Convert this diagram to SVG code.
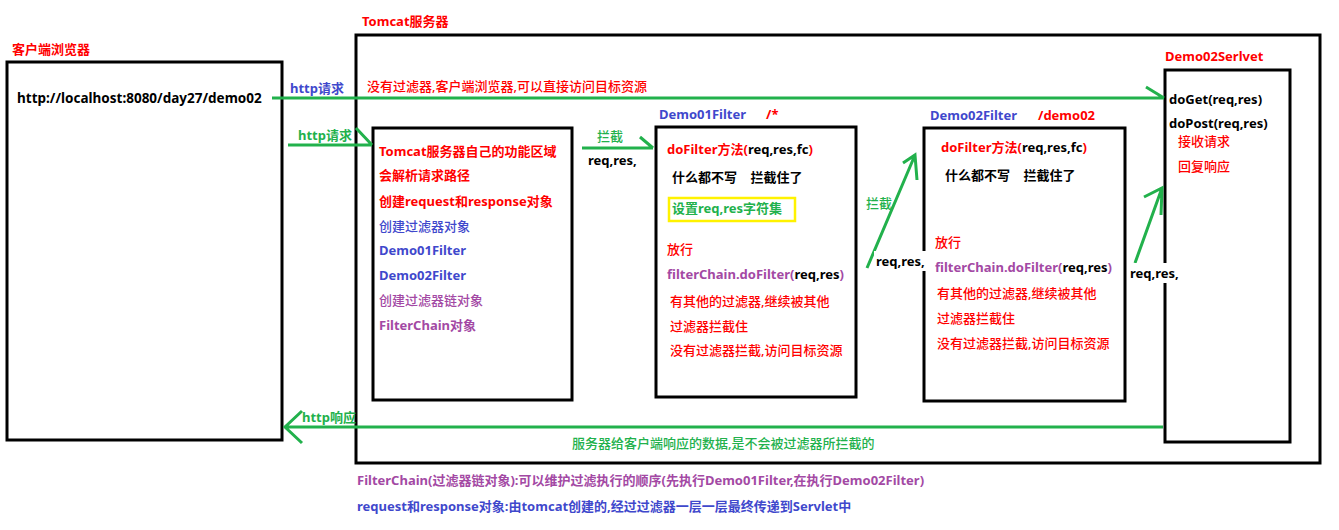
<svg xmlns="http://www.w3.org/2000/svg" width="1339" height="530" viewBox="0 0 1339 530">
<style>
text{font-family:"Noto Sans","Noto Sans CJK SC",sans-serif;font-size:13px;font-weight:500;}
.b{font-weight:bold;}
.r{fill:#ff0000;}
.bl{fill:#3f48cc;}
.p{fill:#a349a4;}
.g{fill:#22b14c;}
.k{fill:#000000;}
.box{fill:none;stroke:#000;stroke-width:3;}
.con{fill:none;stroke:#22b14c;stroke-width:3;}
</style>
<rect width="1339" height="530" fill="#fff"/>

<g id="client">
<text x="12" y="54" class="b r">客户端浏览器</text>
<rect x="7" y="62" width="275" height="378" class="box"/>
<text x="17" y="103" class="b k" style="font-size:13.5px">http://localhost:8080/day27/demo02</text>
</g>

<g id="tomcat">
<text x="362" y="26" class="b r">Tomcat服务器</text>
<rect x="356" y="35" width="964" height="428" class="box"/>
<text x="367" y="91" class="r">没有过滤器,客户端浏览器,可以直接访问目标资源</text>
</g>

<g id="tomcat-area">
<rect x="373" y="128" width="199" height="272" class="box"/>
<text x="379" y="156" class="b r">Tomcat服务器自己的功能区域</text>
<text x="379" y="180" class="b r">会解析请求路径</text>
<text x="379" y="206" class="b r">创建request和response对象</text>
<text x="379" y="231" class="bl">创建过滤器对象</text>
<text x="379" y="255" class="b bl">Demo01Filter</text>
<text x="379" y="280" class="b bl">Demo02Filter</text>
<text x="379" y="305" class="p">创建过滤器链对象</text>
<text x="379" y="330" class="b p">FilterChain对象</text>
</g>

<g id="demo01filter">
<text x="659" y="119" class="b bl">Demo01Filter</text>
<text x="766" y="119" class="b r">/*</text>
<rect x="656" y="127" width="200" height="270" class="box"/>
<text x="667" y="154" class="b r">doFilter方法(<tspan class="k">req,res,fc</tspan>)</text>
<text x="672" y="182" class="b k" xml:space="preserve">什么都不写    拦截住了</text>
<rect x="669" y="198" width="126" height="23" fill="none" stroke="#fff200" stroke-width="2.5"/>
<text x="672" y="213" class="b g">设置req,res字符集</text>
<text x="667" y="254" class="r">放行</text>
<text x="667" y="279" class="b p">filterChain.doFilter(<tspan class="k">req,res</tspan>)</text>
<text x="670" y="306" class="r">有其他的过滤器,继续被其他</text>
<text x="670" y="331" class="r">过滤器拦截住</text>
<text x="670" y="355" class="r">没有过滤器拦截,访问目标资源</text>
</g>

<g id="demo02filter">
<text x="930" y="120" class="b bl">Demo02Filter</text>
<text x="1038" y="120" class="b r">/demo02</text>
<rect x="924" y="128" width="201" height="273" class="box"/>
<text x="941" y="152" class="b r">doFilter方法(<tspan class="k">req,res,fc</tspan>)</text>
<text x="945" y="180" class="b k" xml:space="preserve">什么都不写    拦截住了</text>
<text x="935" y="247" class="r">放行</text>
<text x="935" y="272" class="b p">filterChain.doFilter(<tspan class="k">req,res</tspan>)</text>
<text x="937" y="298" class="r">有其他的过滤器,继续被其他</text>
<text x="937" y="323" class="r">过滤器拦截住</text>
<text x="937" y="348" class="r">没有过滤器拦截,访问目标资源</text>
</g>

<g id="demo02servlet">
<text x="1165" y="61" class="b r">Demo02Serlvet</text>
<rect x="1165" y="70" width="125" height="372" class="box"/>
<text x="1169" y="104" class="b k">doGet(req,res)</text>
<text x="1169" y="128" class="b k">doPost(req,res)</text>
<text x="1178" y="146" class="r">接收请求</text>
<text x="1178" y="171" class="r">回复响应</text>
</g>

<g id="connectors">
<path class="con" d="M272 98 H1164 M1146 87 L1164 98"/>
<text x="290" y="93" class="b bl">http请求</text>
<path class="con" d="M288 145 H372 M356 128 L372 145"/>
<text x="298" y="140" class="b g">http请求</text>
<path class="con" d="M582 148 H653 M640 137 L653 148"/>
<text x="597" y="141" class="g">拦截</text>
<text x="588" y="165" class="b k">req,res,</text>
<path class="con" d="M867 268 L915 155 M903 163 L915 155 L917 180"/>
<text x="866" y="208" class="g">拦截</text>
<rect x="874" y="251" width="52" height="20" fill="#fff"/>
<text x="876" y="266" class="b k">req,res,</text>
<path class="con" d="M1135 263 L1162 188 M1144 197 L1162 188 L1161 215"/>
<rect x="1128" y="263" width="52" height="20" fill="#fff"/>
<text x="1130" y="278" class="b k">req,res,</text>
<path class="con" d="M1163 427 H285 M302 411 L285 427 L302 443"/>
<text x="302" y="422" class="b g">http响应</text>
<text x="572" y="448" class="g">服务器给客户端响应的数据,是不会被过滤器所拦截的</text>
</g>

<g id="notes">
<text x="357" y="485" class="b p">FilterChain(过滤器链对象):可以维护过滤执行的顺序(先执行Demo01Filter,在执行Demo02Filter)</text>
<text x="357" y="511" class="b bl">request和response对象:由tomcat创建的,经过过滤器一层一层最终传递到Servlet中</text>
</g>
</svg>
